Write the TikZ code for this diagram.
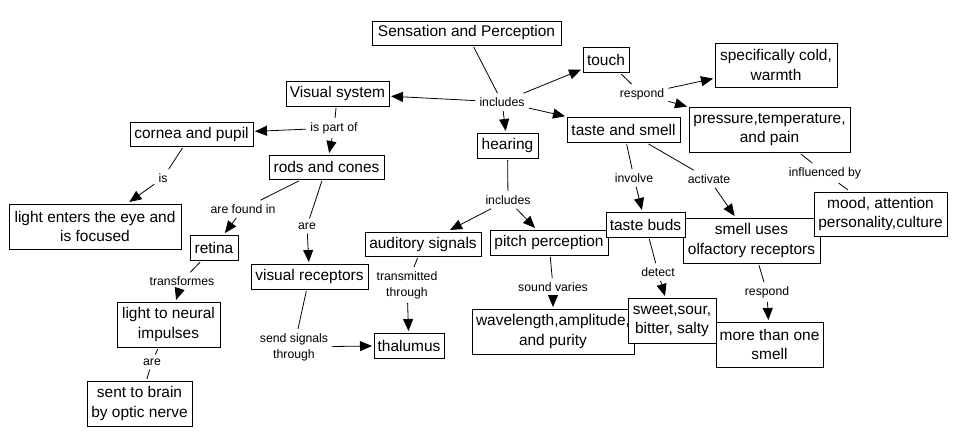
\documentclass[tikz,border=0pt]{standalone}
\usepackage{fontspec}
\setmainfont{Liberation Sans}
\usetikzlibrary{arrows.meta}
\begin{document}
\begin{tikzpicture}[x=0.75pt,y=-0.75pt,
  box/.style={draw, line width=0.75pt, fill=white, inner sep=0pt, outer sep=1.5pt, align=center, font=\fontsize{11.6}{14.4}\selectfont},
  bx/.style 2 args={box, minimum width=#1*0.75pt, minimum height=#2*0.75pt},
  lbl/.style={inner sep=3pt, align=center, font=\fontsize{9.2}{12}\selectfont},
  ln/.style={line width=0.6pt},
  ar/.style={ln, -{Triangle[length=9pt,width=7.5pt]}}]
\useasboundingbox[fill=white] (0,0) rectangle (959,446);
% boxes
\node[bx={189}{24}] (sp) at (466.5,33) {Sensation and Perception};
\node[bx={46}{25}] (touch) at (606,59.5) {touch};
\node[bx={122}{44}] (cold) at (776,65) {specifically cold,\\warmth};
\node[bx={161}{45}] (press) at (769.5,129.5) {pressure,temperature,\\and pain};
\node[bx={113}{25}] (tas) at (623.5,129.5) {taste and smell};
\node[bx={61}{25}] (hear) at (507.5,145.5) {hearing};
\node[bx={103}{25}] (vis) at (337.5,93.5) {Visual system};
\node[bx={123}{24}] (cornea) at (191.5,134) {cornea and pupil};
\node[bx={115}{24}] (rods) at (326.5,167) {rods and cones};
\node[bx={172}{45}] (light) at (95,226.5) {light enters the eye and\\is focused};
\node[bx={48}{25}] (retina) at (214,247.5) {retina};
\node[bx={117}{25}] (vrec) at (309.5,276.5) {visual receptors};
\node[bx={116}{24}] (aud) at (423,244) {auditory signals};
\node[bx={103}{45}] (neural) at (168.5,324.5) {light to neural\\impulses};
\node[bx={105}{45}] (brain) at (139.5,403.5) {sent to brain\\by optic nerve};
\node[bx={70}{25}] (thal) at (409,345.5) {thalumus};
\node[bx={118}{25}] (pitch) at (549,242.5) {pitch perception};
\node[bx={137}{45}] (smell) at (751.5,240.5) {smell uses\\olfactory receptors};
\node[bx={79}{25}] (buds) at (645.5,224.5) {taste buds};
\node[bx={133}{44}] (mood) at (880.5,214) {mood, attention\\personality,culture};
\node[bx={162}{45}] (wave) at (553,331.5) {wavelength,amplitude,\\and purity};
\node[bx={88}{45}] (sweet) at (672,320.5) {sweet,sour,\\bitter, salty};
\node[bx={107}{45}] (more) at (769.5,344.5) {more than one\\smell};
% labels
\node[lbl] (l1) at (502,102) {includes};
\node[lbl] (l2) at (642,94) {respond};
\node[lbl] (l3) at (334,128) {is part of};
\node[lbl] (l4) at (163,178) {is};
\node[lbl] (l5) at (243,209) {are found in};
\node[lbl] (l6) at (307,226) {are};
\node[lbl] (l7) at (182,281) {transformes};
\node[lbl] (l8) at (152,362) {are};
\node[lbl] (l9) at (294,347) {send signals\\through};
\node[lbl] (l10) at (407,285) {transmitted\\through};
\node[lbl] (l11) at (508,200) {includes};
\node[lbl] (l12) at (553,287) {sound varies};
\node[lbl] (l13) at (658,272) {detect};
\node[lbl] (l14) at (634,178) {involve};
\node[lbl] (l15) at (709,179) {activate};
\node[lbl] (l16) at (825,173) {influenced by};
\node[lbl] (l17) at (767,292) {respond};
% connectors
\draw[ln] (sp) -- (l1);
\draw[ar] (l1) -- (vis);
\draw[ar] (l1) -- (touch);
\draw[ar] (l1) -- (tas);
\draw[ar] (l1) -- (hear);
\draw[ln] (touch) -- (l2);
\draw[ar] (l2) -- (cold);
\draw[ar] (l2) -- (press);
\draw[ln] (vis) -- (l3);
\draw[ar] (l3) -- (cornea);
\draw[ar] (l3) -- (rods);
\draw[ln] (cornea) -- (l4);
\draw[ar] (l4) -- (light);
\draw[ln] (rods) -- (l5);
\draw[ar] (l5) -- (retina);
\draw[ln] (rods) -- (l6);
\draw[ar] (l6) -- (vrec);
\draw[ln] (retina) -- (l7);
\draw[ar] (l7) -- (neural);
\draw[ln] (neural) -- (l8);
\draw[ln] (l8) -- (brain);
\draw[ln] (vrec) -- (l9);
\draw[ar] (l9) -- (thal);
\draw[ln] (aud) -- (l10);
\draw[ar] (l10) -- (thal);
\draw[ln] (hear) -- (l11);
\draw[ar] (l11) -- (aud);
\draw[ar] (l11) -- (pitch);
\draw[ln] (pitch) -- (l12);
\draw[ar] (l12) -- (wave);
\draw[ln] (tas) -- (l14);
\draw[ar] (l14) -- (buds);
\draw[ln] (tas) -- (l15);
\draw[ar] (l15) -- (smell);
\draw[ln] (buds) -- (l13);
\draw[ar] (l13) -- (sweet);
\draw[ln] (smell) -- (l17);
\draw[ar] (l17) -- (more);
\draw[ln] (press) -- (l16);
\draw[ln] (l16) -- (mood);
\end{tikzpicture}
\end{document}
